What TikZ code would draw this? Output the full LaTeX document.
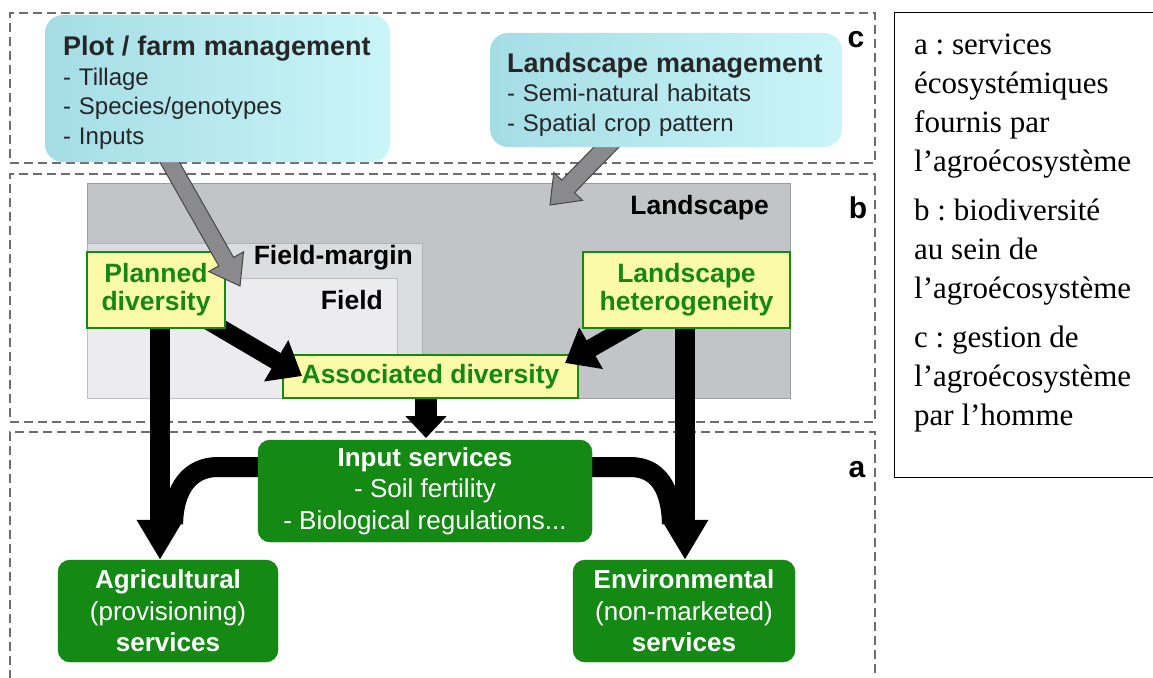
\documentclass[tikz,border=0pt]{standalone}
\usepackage{fontspec}
\setmainfont{Liberation Sans}
\newfontfamily\serifleg{Liberation Serif}
\usetikzlibrary{arrows.meta,calc}
\frenchspacing
\definecolor{gbox}{RGB}{20,138,20}
\definecolor{gtext}{RGB}{22,135,22}
\definecolor{ybox}{RGB}{250,250,168}
\definecolor{cyanL}{RGB}{165,221,229}
\definecolor{cyanR}{RGB}{202,245,248}
\definecolor{landc}{RGB}{195,196,200}
\definecolor{marginc}{RGB}{220,221,224}
\definecolor{fieldc}{RGB}{236,236,239}
\definecolor{dashc}{RGB}{110,110,110}
\definecolor{garrow}{RGB}{138,138,141}
\definecolor{gedge}{RGB}{70,70,70}
\begin{document}
\begin{tikzpicture}[x=1pt,y=-1pt,
  zone/.style={draw=dashc, dash pattern=on 9pt off 5pt, line width=1.3pt, inner sep=0pt, outer sep=0pt},
  area/.style={draw=#1!80!black, fill=#1, line width=0.8pt, inner sep=0pt, outer sep=0pt},
  arealabel/.style={font=\fontsize{26.5}{28}\selectfont\bfseries, text=black, inner sep=0pt},
  mgmt/.style={rounded corners=18pt, left color=cyanL, right color=cyanR, align=left, inner ysep=0pt,
     font=\fontsize{24}{29.5}\selectfont, text=black!85},
  ybx/.style={fill=ybox, draw=gbox, line width=1.6pt, text=gtext, align=center, inner sep=0pt,
     font=\fontsize{26.5}{28}\selectfont\bfseries},
  srv/.style={fill=gbox, draw=gbox!90!black, rounded corners=12pt, text=white, align=center, inner sep=0pt,
     font=\fontsize{26}{31.5}\selectfont},
  barrow/.style={line width=20pt, draw=black, -{Triangle[width=44pt,length=40pt]}},
  darrow/.style={line width=18pt, draw=black, -{Triangle[width=46pt,length=30pt]}},
  bline/.style={line width=20pt, draw=black},
  garr/.style={fill=garrow, draw=gedge, line width=1pt, line join=miter},
  zlabel/.style={font=\fontsize{30}{30}\selectfont\bfseries, inner sep=0pt},
]
\useasboundingbox (0,0) rectangle (1153,677);
\fill[white] (0,0) rectangle (1153,677);

% zones
\node[zone, minimum width=865pt, minimum height=150pt] (zc) at (442.5,88) {};
\node[zone, minimum width=865pt, minimum height=248pt] (zb) at (442.5,298) {};
\node[zone, minimum width=865pt, minimum height=258pt] (za) at (442.5,561) {};

% landscape areas
\node[area=landc, minimum width=703pt, minimum height=215pt] (land) at (438.5,290.5) {};
\node[area=marginc, minimum width=335pt, minimum height=155pt] (marg) at (254.5,320.5) {};
\node[area=fieldc, minimum width=310pt, minimum height=120pt] (field) at (242,338) {};
\node[arealabel, anchor=east] (landlab) at (769,208) {Landscape};
\node[arealabel, anchor=east] (marglab) at (413,258) {Field-margin};
\node[arealabel, anchor=east] (fieldlab) at (383,300) {Field};

% associated diversity
\node[ybx, minimum width=295pt, minimum height=43pt] (ad) at (430.5,376.5) {Associated diversity};

% black connectors
\coordinate (vL) at (160,300);
\coordinate (vR) at (685,300);
\coordinate (vM) at (426,0);
\coordinate (pdo) at (200,316);
\coordinate (adl) at (302,376);
\coordinate (lho) at (651,314);
\coordinate (adr) at (565,363);
\coordinate (jL) at (173,524);
\coordinate (jR) at (672,524);

\node[srv, minimum width=222pt, minimum height=102pt] (env) at (684,611)
  {\textbf{Environmental}\\(non-marketed)\\\textbf{services}};
\node[srv, minimum width=220pt, minimum height=102pt] (agr) at (168,611)
  {\textbf{Agricultural}\\(provisioning)\\\textbf{services}};

\draw[bline] (258,467) -- (218,467) .. controls (190,467) and (174,488) .. (jL);
\draw[bline] (592,467) -- (630,467) .. controls (658,467) and (671,488) .. (jR);
\draw[barrow] (vL) -- (vL |- agr.north);
\draw[barrow] (vR) -- (vR |- env.north);
\draw[darrow] (pdo) -- (adl);
\draw[darrow] (lho) -- (adr);
\draw[line width=22pt, draw=black, -{Triangle[width=40pt,length=22pt]}] (vM |- ad.south) -- (426,438);

\node[srv, minimum width=334pt, minimum height=102pt] (inp) at (425,491)
  {\textbf{Input services}\\- Soil fertility\\- Biological regulations...};

% yellow boxes
\node[ybx, minimum width=138pt, minimum height=76pt] (pd) at (156,290) {Planned\\diversity};
\node[ybx, minimum width=207pt, minimum height=76pt] (lh) at (686.5,290) {Landscape\\heterogeneity};

% gray arrows
\coordinate (gt1) at (157,140);
\coordinate (gh1) at (240,286);
\coordinate (gt2) at (625,128);
\coordinate (gh2) at (550,205);
\coordinate (gb1) at ($(gh1)!28pt!(gt1)$);
\coordinate (gb2) at ($(gh2)!26pt!(gt2)$);
\draw[garr] ($(gt1)!8.5pt!90:(gh1)$) -- ($(gb1)!8.5pt!90:(gh1)$) -- ($(gb1)!20pt!90:(gh1)$) -- (gh1)
    -- ($(gb1)!20pt!-90:(gh1)$) -- ($(gb1)!8.5pt!-90:(gh1)$) -- ($(gt1)!8.5pt!-90:(gh1)$) -- cycle;
\draw[garr] ($(gt2)!9pt!90:(gh2)$) -- ($(gb2)!9pt!90:(gh2)$) -- ($(gb2)!20pt!90:(gh2)$) -- (gh2)
    -- ($(gb2)!20pt!-90:(gh2)$) -- ($(gb2)!9pt!-90:(gh2)$) -- ($(gt2)!9pt!-90:(gh2)$) -- cycle;

% management boxes
\node[mgmt, minimum width=345pt, minimum height=147pt, text width=309pt, inner xsep=18pt] (plot) at (217.5,88.5)
  {{\fontsize{27}{30}\selectfont\bfseries\rule{0pt}{28pt}Plot / farm management}\\- Tillage\\- Species/genotypes\\- Inputs};
\node[mgmt, minimum width=352pt, minimum height=114pt, text width=318pt, inner xsep=17pt] (lm) at (666,90)
  {{\fontsize{27}{30}\selectfont\bfseries\rule{0pt}{28pt}Landscape management}\\- Semi-natural habitats\\- Spatial crop pattern};

% zone labels
\node[zlabel] (lc) at (856,40) {c};
\node[zlabel] (lb) at (858,208) {b};
\node[zlabel] (la) at (857,470) {a};

% legend
\node[draw=black, line width=1pt, minimum width=261pt, minimum height=465pt, anchor=north west, inner sep=0pt] (leg) at (894,12) {};
\node[anchor=north west, align=left, inner sep=0pt, font=\serifleg\fontsize{31}{39}\selectfont] (legtext) at (914,34)
  {a : services\\écosystémiques\\fournis par\\l’agroécosystème\\[10pt]b : biodiversité\\au sein de\\l’agroécosystème\\[10pt]c : gestion de\\l’agroécosystème\\par l’homme};
\end{tikzpicture}
\end{document}
